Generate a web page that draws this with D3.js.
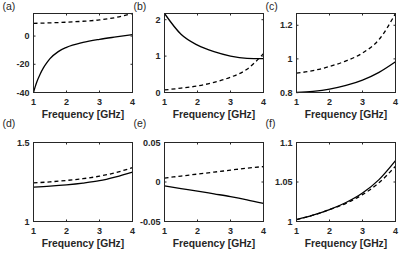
<!DOCTYPE html>
<meta charset="utf-8">
<title>Six panels vs frequency</title>
<style>
body { margin: 0; background: #fff; }
.box { fill: none; stroke: #262626; stroke-width: 1; }
.tick { stroke: #262626; stroke-width: 1; }
.lbl { font-family: "Liberation Sans", Arial, sans-serif; font-weight: bold; fill: #262626; }
.solid { fill: none; stroke: #000; stroke-width: 1.3; }
.dashed { fill: none; stroke: #000; stroke-width: 1.3; stroke-dasharray: 4,3; }
</style>
<svg width="407" height="255"></svg>
<script src="https://d3js.org/d3.v7.min.js"></script>
<script>
// data
var freq  = [1, 1.5, 2, 2.5, 3, 3.5, 4];
var freqA = [1, 1.05, 1.1, 1.2, 1.3, 1.4, 1.5, 1.75, 2, 2.5, 3, 3.5, 4];
var xTicks = [1, 2, 3, 4];

var solidA  = [-40, -36, -32.5, -27, -22.5, -19, -16, -11, -8, -4.5, -2.3, -0.6, 1.0];
var dashedA = [9, 9.35, 9.85, 10.5, 11.45, 13.2, 16];
var solidB  = [2.17, 1.6, 1.3, 1.12, 1.0, 0.94, 0.93];
var dashedB = [0.07, 0.12, 0.18, 0.28, 0.42, 0.64, 1.07];
var solidC  = [0.8, 0.807, 0.82, 0.842, 0.874, 0.92, 0.983];
var dashedC = [0.915, 0.93, 0.955, 0.988, 1.035, 1.115, 1.27];
var solidD  = [1.218, 1.224, 1.232, 1.243, 1.258, 1.283, 1.313];
var dashedD = [1.244, 1.251, 1.26, 1.271, 1.287, 1.31, 1.341];
var solidE  = [-0.005, -0.0083, -0.0115, -0.015, -0.0185, -0.0225, -0.027];
var dashedE = [0.005, 0.0075, 0.01, 0.0125, 0.015, 0.0175, 0.0195];
var solidF  = [1.0025, 1.008, 1.015, 1.024, 1.036, 1.053, 1.077];
var dashedF = [1.0025, 1.008, 1.015, 1.023, 1.034, 1.049, 1.07];

var panelNames = ["(a)", "(b)", "(c)", "(d)", "(e)", "(f)"];
var yDomains = [[-40, 16], [0, 2.17], [0.8, 1.27], [1, 1.5], [-0.05, 0.05], [1, 1.1]];
var yTicks = [[-40, -20, 0], [0, 1, 2], [0.8, 1, 1.2], [1, 1.5], [-0.05, 0, 0.05], [1, 1.05, 1.1]];
var yTickLabels = [["-40", "-20", "0"], ["0", "1", "2"], ["0.8", "1", "1.2"],
                   ["1", "1.5"], ["-0.05", "0", "0.05"], ["1", "1.05", "1.1"]];

var panels = [
  {sx: freqA, s: solidA, dx: freq, d: dashedA},
  {sx: freq, s: solidB, dx: freq, d: dashedB},
  {sx: freq, s: solidC, dx: freq, d: dashedC},
  {sx: freq, s: solidD, dx: freq, d: dashedD},
  {sx: freq, s: solidE, dx: freq, d: dashedE},
  {sx: freq, s: solidF, dx: freq, d: dashedF}
];

// layout
var colLeft = [33.5, 164.5, 296.5],
    rowTop = [13.5, 142.5],
    pw = 99, ph = 79,
    tickLen = 2;
var nameY = [10, 127];

var svg = d3.select("svg");

panels.forEach(function(p, i) {
  var col = i % 3, row = Math.floor(i / 3);
  var g = svg.append("g")
      .attr("transform", "translate(" + colLeft[col] + "," + rowTop[row] + ")");

  var x = d3.scaleLinear().domain([1, 4]).range([0, pw]);
  var y = d3.scaleLinear().domain(yDomains[i]).range([ph, 0]);

  var line = function(xs, ys) {
    return d3.line()
        .x(function(d, k) { return x(xs[k]); })
        .y(function(d) { return y(d); })
        .curve(d3.curveMonotoneX)(ys);
  };

  g.append("path").attr("class", "dashed").attr("d", line(p.dx, p.d));
  g.append("path").attr("class", "solid").attr("d", line(p.sx, p.s));

  // ticks, inward on all four sides
  xTicks.forEach(function(t) {
    g.append("line").attr("class", "tick")
        .attr("x1", x(t)).attr("x2", x(t)).attr("y1", ph).attr("y2", ph - tickLen);
    g.append("line").attr("class", "tick")
        .attr("x1", x(t)).attr("x2", x(t)).attr("y1", 0).attr("y2", tickLen);
    g.append("text").attr("class", "lbl")
        .attr("x", x(t)).attr("y", ph + 12)
        .attr("text-anchor", "middle")
        .style("font-size", "9px")
        .text(t);
  });
  yTicks[i].forEach(function(t, k) {
    g.append("line").attr("class", "tick")
        .attr("x1", 0).attr("x2", tickLen).attr("y1", y(t)).attr("y2", y(t));
    g.append("line").attr("class", "tick")
        .attr("x1", pw).attr("x2", pw - tickLen).attr("y1", y(t)).attr("y2", y(t));
    g.append("text").attr("class", "lbl")
        .attr("x", -4).attr("y", y(t))
        .attr("dy", "0.35em")
        .attr("text-anchor", "end")
        .style("font-size", "9px")
        .text(yTickLabels[i][k]);
  });

  g.append("rect").attr("class", "box")
      .attr("width", pw).attr("height", ph);

  g.append("text").attr("class", "lbl")
      .attr("x", pw / 2).attr("y", ph + 25)
      .attr("text-anchor", "middle")
      .style("font-size", "10.3px")
      .text("Frequency [GHz]");

  svg.append("text")
      .attr("x", colLeft[col] - 31).attr("y", nameY[row])
      .style("font-family", "Liberation Sans, Arial, sans-serif")
      .style("font-size", "10.5px")
      .style("fill", "#262626")
      .text(panelNames[i]);
});
</script>
